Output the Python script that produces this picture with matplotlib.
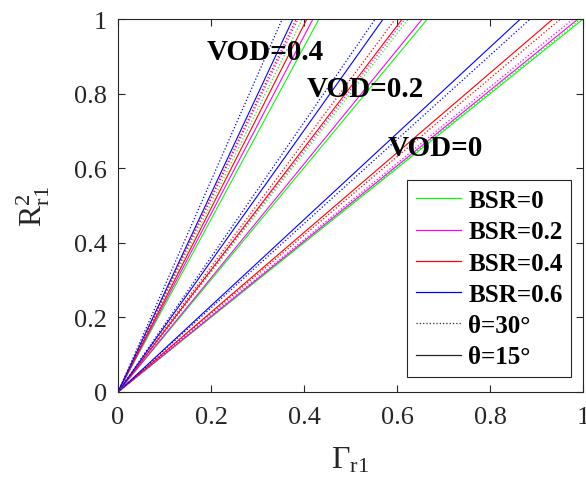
import numpy as np
import matplotlib
matplotlib.use('Agg')
import matplotlib.pyplot as plt
from matplotlib.lines import Line2D

plt.rcParams['font.family'] = ['Liberation Serif', 'DejaVu Serif']
plt.rcParams['mathtext.fontset'] = 'custom'
plt.rcParams['mathtext.rm'] = 'Liberation Serif'
plt.rcParams['mathtext.it'] = 'Liberation Serif:italic'
plt.rcParams['mathtext.bf'] = 'Liberation Serif:bold'

# Γ_r1 at which R_r1^2 reaches 1, per VOD / BSR / θ
VOD = [0, 0.2, 0.4]
BSR = [0, 0.2, 0.4, 0.6]
BSR_COLORS = ['#00ff00', '#ff00ff', '#ff0000', '#0000ff']

GAMMA_END_15 = {  # solid, θ=15°
    0:   [1.000, 0.989, 0.935, 0.865],
    0.2: [0.665, 0.654, 0.611, 0.570],
    0.4: [0.432, 0.419, 0.406, 0.376],
}
GAMMA_END_30 = {  # dotted, θ=30°
    0:   [0.995, 0.978, 0.951, 0.886],
    0.2: [0.624, 0.617, 0.596, 0.553],
    0.4: [0.396, 0.387, 0.383, 0.353],
}

VOD_LABELS = ['VOD=0', 'VOD=0.2', 'VOD=0.4']
VOD_LABEL_POS = [(0.58, 0.657), (0.405, 0.815), (0.19, 0.914)]

fig = plt.figure(figsize=(5.86, 4.81), dpi=100)
ax = fig.add_axes([0.2014, 0.183, 0.7935, 0.775])

for v in VOD:
    for i, b in enumerate(BSR):
        ax.plot([0, GAMMA_END_30[v][i]], [0, 1], ls=':', color=BSR_COLORS[i], lw=0.9)
        ax.plot([0, GAMMA_END_15[v][i]], [0, 1], ls='-', color=BSR_COLORS[i], lw=0.8)

for lab, (x, y) in zip(VOD_LABELS, VOD_LABEL_POS):
    ax.text(x, y, lab, fontsize=21, fontweight='bold', va='center', ha='left')

ax.set_xlim(0, 1)
ax.set_ylim(0, 1)
ticks = [0, 0.2, 0.4, 0.6, 0.8, 1]
tick_labels = ['0', '0.2', '0.4', '0.6', '0.8', '1']
ax.set_xticks(ticks)
ax.set_xticklabels(tick_labels)
ax.set_yticks(ticks)
ax.set_yticklabels(tick_labels)
ax.tick_params(direction='in', top=True, right=True, labelsize=19,
               colors='#262626', length=5, width=0.8)
ax.tick_params(axis='x', pad=10)
ax.tick_params(axis='y', pad=8)
for s in ax.spines.values():
    s.set_color('#262626')
    s.set_linewidth(0.8)

ax.set_xlabel(r'$\Gamma_{\mathrm{r1}}$', fontsize=23, color='#262626', labelpad=12)
ax.set_ylabel(r'$\mathrm{R}^{2}_{\mathrm{r1}}$', fontsize=23, color='#262626', labelpad=16)

handles = [Line2D([], [], color=c, lw=0.9) for c in BSR_COLORS]
handles += [Line2D([], [], color='#262626', ls=':', lw=0.9),
            Line2D([], [], color='#262626', ls='-', lw=0.9)]
labels = ['BSR=%g' % b for b in BSR] + ['θ=30°', 'θ=15°']
leg = ax.legend(handles, labels, loc='lower right', bbox_to_anchor=(0.975, 0.04),
                prop={'size': 18, 'weight': 'bold'}, fancybox=False,
                framealpha=1, edgecolor='#262626', borderpad=0.35,
                labelspacing=0.33, handlelength=1.8, handletextpad=0.3,
                borderaxespad=0)
leg.get_frame().set_linewidth(0.8)

fig.savefig('out.png', dpi=100)
